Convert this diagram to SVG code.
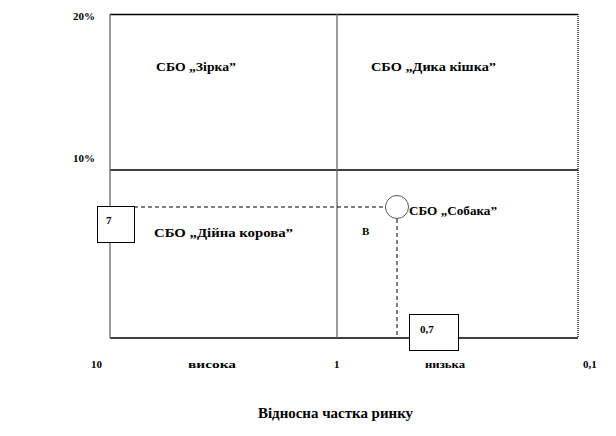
<svg xmlns="http://www.w3.org/2000/svg" width="616" height="436" viewBox="0 0 616 436" font-family="'Liberation Serif', 'DejaVu Serif', serif">
<style>
text{font-family:'Liberation Serif','DejaVu Serif',serif;font-weight:bold;fill:#000}
.lbl{font-size:13px}
.ax{font-size:11px}
.sm{font-size:11px}
.grid{stroke:#000;stroke-width:1.3;fill:none}
.gv{stroke:#666;stroke-width:1.3;fill:none}
.dash{stroke:#000;stroke-width:1;stroke-dasharray:4 3;fill:none}
.box{fill:#fff;stroke:#000;stroke-width:1}
</style>
<rect width="616" height="436" fill="#fff"/>
<g id="grid">
<line class="grid" x1="110" y1="14.5" x2="578" y2="14.5"/>
<line class="grid" x1="110" y1="170" x2="578" y2="170"/>
<line class="grid" x1="110" y1="338" x2="578" y2="338"/>
<line class="gv" x1="110" y1="14" x2="110" y2="338"/>
<line class="gv" x1="337" y1="14" x2="337" y2="338"/>
<line x1="578" y1="14" x2="578" y2="338" stroke="#000" stroke-width="1.3" stroke-dasharray="1 1"/>
</g>
<g id="axis-labels">
<text class="ax" x="73" y="20">20%</text>
<text class="ax" x="73" y="162">10%</text>
<text class="ax" x="91" y="368">10</text>
<text class="sm" x="188" y="368" textLength="48" lengthAdjust="spacingAndGlyphs">висока</text>
<text class="ax" x="334" y="368">1</text>
<text class="sm" x="425" y="368" textLength="40" lengthAdjust="spacingAndGlyphs">низька</text>
<text class="ax" x="583" y="368">0,1</text>
<text x="258" y="418" font-size="14" textLength="155" lengthAdjust="spacingAndGlyphs">Відносна частка ринку</text>
</g>
<g id="connectors">
<line class="dash" x1="134" y1="207" x2="386" y2="207"/>
<line class="dash" x1="397" y1="219" x2="397" y2="338" stroke="#555"/>
</g>
<g id="star">
<text class="lbl" x="156" y="71" textLength="80" lengthAdjust="spacingAndGlyphs">СБО „Зірка”</text>
</g>
<g id="wildcat">
<text class="lbl" x="371" y="71" textLength="125" lengthAdjust="spacingAndGlyphs">СБО „Дика кішка”</text>
</g>
<g id="cashcow">
<text class="lbl" x="154" y="237" textLength="139" lengthAdjust="spacingAndGlyphs">СБО „Дійна корова”</text>
</g>
<g id="dog">
<circle cx="397" cy="207" r="11.5" fill="#fff" stroke="#555" stroke-width="1"/>
<text class="lbl" x="409" y="215" textLength="88" lengthAdjust="spacingAndGlyphs">СБО „Собака”</text>
</g>
<g id="label-v">
<text class="ax" x="362" y="235">В</text>
</g>
<g id="box7">
<rect class="box" x="97.5" y="206.5" width="37" height="36"/>
<text class="ax" x="106" y="224">7</text>
</g>
<g id="box07">
<rect class="box" x="409.5" y="314.5" width="49" height="36"/>
<text class="ax" x="420" y="333">0,7</text>
</g>
</svg>
